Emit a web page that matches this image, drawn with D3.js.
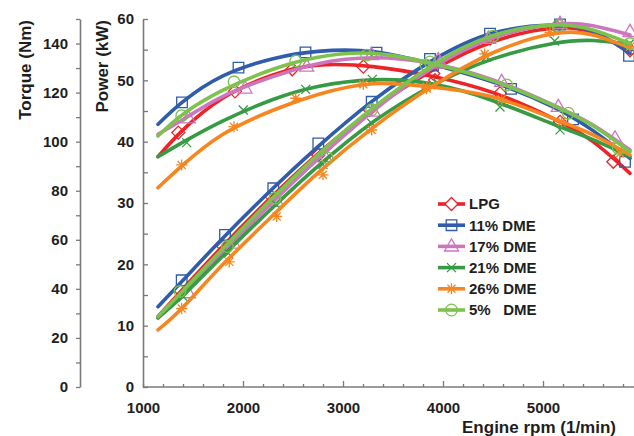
<!DOCTYPE html>
<html>
<head>
<meta charset="utf-8">
<script src="https://cdn.jsdelivr.net/npm/d3@7"></script>
<style>
  html, body { margin: 0; padding: 0; background: #fff; }
  svg { display: block; font-family: "Liberation Sans", Arial, sans-serif; }
</style>
</head>
<body>
<svg id="chart" width="634" height="436"></svg>
<script>
// Engine speed points of the fitted curves (1/min)
const fitRpm = [1150, 1400, 1800, 2300, 2750, 3300, 3900, 4500, 5100, 5500, 5870];

// Fitted torque curves (Nm)
const torqueFitLPG   = [93.9, 104.8, 117.8, 127.2, 131.2, 130.6, 126.6, 120.0, 109.5, 100.0, 87.1];
const torqueFitDME11 = [107.1, 116.3, 126.8, 133.8, 136.8, 136.7, 131.5, 124.3, 114.2, 104.5, 93.2];
const torqueFitDME17 = [103.0, 109.0, 118.5, 126.5, 131.8, 134.2, 131.8, 125.2, 115.0, 106.8, 96.6];
const torqueFitDME21 = [93.9, 99.8, 108.5, 117.2, 122.5, 125.2, 123.5, 116.7, 107.2, 100.8, 93.9];
const torqueFitDME26 = [81.2, 90.5, 103.0, 112.8, 119.2, 123.6, 122.2, 118.2, 109.5, 102.8, 94.6];
const torqueFitDME5  = [102.3, 111.2, 121.0, 129.5, 134.4, 136.0, 131.8, 124.8, 114.8, 106.5, 95.9];

// Fitted power curves (kW)
const powerFitLPG   = [11.5, 16.0, 23.0, 31.2, 38.0, 45.3, 51.7, 56.3, 58.5, 57.7, 54.8];
const powerFitDME11 = [13.1, 17.4, 24.3, 32.4, 39.2, 46.7, 53.3, 57.7, 59.0, 58.0, 54.4];
const powerFitDME17 = [11.2, 15.3, 22.0, 30.2, 37.2, 45.0, 52.1, 56.9, 59.1, 58.9, 57.4];
const powerFitDME21 = [11.3, 14.9, 21.4, 29.3, 36.0, 43.2, 49.2, 53.5, 56.0, 56.5, 55.9];
const powerFitDME26 = [9.3, 13.0, 20.0, 28.0, 34.9, 42.3, 49.1, 54.5, 57.6, 57.4, 55.3];
const powerFitDME5  = [11.5, 15.7, 22.6, 30.9, 37.9, 45.5, 52.5, 57.3, 59.0, 58.2, 56.0];

// Measured points [rpm, torque Nm]
const torquePtsLPG   = [[1353,103.7],[1920,120.5],[2493,129.5],[3203,130.6],[3920,125.1],[4570,119.7],[5170,108.1],[5703,91.8]];
const torquePtsDME11 = [[1390,116.0],[1955,130.2],[2625,136.4],[3335,136.3],[3900,131.0],[4680,121.5],[5300,109.1],[5820,91.8]];
const torquePtsDME17 = [[1453,109.5],[2020,121.7],[2637,130.6],[3287,135.3],[3970,131.9],[4587,124.4],[5153,114.2],[5720,101.4]];
const torquePtsDME21 = [[1437,99.6],[2003,112.9],[2627,121.3],[3293,125.4],[3953,123.2],[4570,114.1],[5170,104.8],[5750,95.9]];
const torquePtsDME26 = [[1387,90.5],[1910,106.1],[2527,117.7],[3203,123.4],[3837,121.6],[4587,117.3],[5187,108.1],[5770,95.3]];
const torquePtsDME5  = [[1387,110.6],[1910,124.4],[2527,132.9],[3237,135.3],[3870,132.5],[4637,123.1],[5253,111.6],[5753,97.3]];

// Measured points [rpm, power kW]
const powerPtsLPG   = [[1370,15.8],[1803,22.9],[2287,31.0],[2753,37.8],[3267,45.2],[3903,51.1],[4470,56.8],[5137,58.7],[5870,54.9]];
const powerPtsDME11 = [[1387,17.4],[1820,24.8],[2303,32.4],[2753,39.7],[3287,46.5],[3870,53.5],[4470,57.6],[5170,59.1],[5860,54.0]];
const powerPtsDME17 = [[1453,15.3],[1903,23.4],[2337,30.2],[2820,37.5],[3303,44.9],[3953,53.3],[4453,56.8],[5170,59.2],[5870,57.9]];
const powerPtsDME21 = [[1403,14.7],[1853,21.8],[2337,29.7],[2800,36.3],[3287,43.0],[3953,49.5],[4433,53.8],[5117,56.4],[5870,56.0]];
const powerPtsDME26 = [[1387,12.8],[1863,20.4],[2337,27.8],[2800,34.6],[3287,41.9],[3837,48.9],[4417,54.3],[5070,57.8],[5870,55.5]];
const powerPtsDME5  = [[1370,15.6],[1843,22.9],[2320,30.8],[2840,37.4],[3287,45.2],[3830,52.5],[4500,57.2],[5150,58.9],[5870,56.0]];

const seriesNames = ["LPG", "11% DME", "17% DME", "21% DME", "26% DME", "5%\u00a0\u00a0\u00a0DME"];
const seriesColors = ["#ec2327", "#2f5cab", "#cc76bd", "#379a45", "#f6861f", "#7dc24d"];
const seriesMarkers = ["diamond", "square", "triangle", "cross", "star", "circle"];

const torqueFits = [torqueFitLPG, torqueFitDME11, torqueFitDME17, torqueFitDME21, torqueFitDME26, torqueFitDME5];
const powerFits = [powerFitLPG, powerFitDME11, powerFitDME17, powerFitDME21, powerFitDME26, powerFitDME5];
const torquePts = [torquePtsLPG, torquePtsDME11, torquePtsDME17, torquePtsDME21, torquePtsDME26, torquePtsDME5];
const powerPts = [powerPtsLPG, powerPtsDME11, powerPtsDME17, powerPtsDME21, powerPtsDME26, powerPtsDME5];

const powerTicks = d3.range(0, 61, 5);
const torqueTicks = d3.range(0, 151, 10);
const rpmTicks = d3.range(1000, 5801, 200);
const rpmLabels = [1000, 2000, 3000, 4000, 5000];

const svg = d3.select("#chart");
const W = 634;

const x = d3.scaleLinear().domain([1000, 6000]).range([143, 643]);
const yP = d3.scaleLinear().domain([0, 60]).range([387, 19]);
const yT = d3.scaleLinear().domain([0, 150]).range([387, 19]);

const axisColor = "#7a7a7a";
const textColor = "#1e1e1e";

function styleAxis(g) {
  g.select(".domain").attr("stroke", axisColor).attr("stroke-width", 1.6);
  g.selectAll(".tick line").attr("stroke", axisColor).attr("stroke-width", 1.3);
  g.selectAll(".tick text")
    .attr("fill", textColor)
    .style("font-size", "15px")
    .style("font-weight", "bold")
    .style("font-family", "'Liberation Sans', Arial, sans-serif");
}

// Torque axis (outer)
svg.append("g")
  .attr("transform", "translate(80,0)")
  .call(d3.axisLeft(yT).tickValues(torqueTicks).tickSizeInner(4).tickSizeOuter(0).tickPadding(8)
    .tickFormat(d => (d % 20 === 0 && d <= 140) ? d : ""))
  .call(styleAxis);

// Power axis (inner)
svg.append("g")
  .attr("transform", "translate(143,0)")
  .call(d3.axisLeft(yP).tickValues(powerTicks).tickSizeInner(-5).tickSizeOuter(0).tickPadding(9)
    .tickFormat(d => d % 10 === 0 ? d : ""))
  .call(styleAxis);

// Engine speed axis
const gx = svg.append("g")
  .attr("transform", "translate(0,387)")
  .call(d3.axisBottom(x).tickValues(rpmTicks).tickSizeInner(-3).tickSizeOuter(0).tickPadding(15)
    .tickFormat(d => rpmLabels.includes(d) ? d : ""))
  .call(styleAxis);
gx.selectAll(".tick line").filter(d => d % 1000 === 0 && d > 1000).attr("y2", -6);
gx.select(".domain").attr("d", `M${x(1000)},0H${W}`);

// Axis titles
const titleStyle = t => t.attr("fill", textColor).style("font-size", "17px").style("font-weight", "bold");
svg.append("text").attr("transform", "translate(31,20) rotate(-90)").attr("text-anchor", "end")
  .text("Torque (Nm)").call(titleStyle);
svg.append("text").attr("transform", "translate(108,20) rotate(-90)").attr("text-anchor", "end")
  .text("Power (kW)").call(titleStyle);
svg.append("text").attr("x", 616).attr("y", 433).attr("text-anchor", "end")
  .text("Engine rpm (1/min)").call(titleStyle);

// Marker shapes
function markerPath(kind) {
  switch (kind) {
    case "diamond": return "M0,-6.5L6.5,0L0,6.5L-6.5,0Z";
    case "square": return "M-5.3,-5.3H5.3V5.3H-5.3Z";
    case "triangle": return "M0,-7.5L7,4.6H-7Z";
    case "cross": return "M-4.5,-4.5L4.5,4.5M-4.5,4.5L4.5,-4.5";
    case "star": return "M0,-5.5V5.5M-4,-4L4,4M-4,4L4,-4M-5.5,0H5.5";
    case "circle": return d3.symbol(d3.symbolCircle, 105)();
  }
}

const plot = svg.append("g");
const line = d3.line().curve(d3.curveNatural);

function drawSeries(i) {
  const color = seriesColors[i];
  const g = plot.append("g");
  [torqueFits[i].map((v, k) => [x(fitRpm[k]), yT(v)]),
   powerFits[i].map((v, k) => [x(fitRpm[k]), yP(v)])].forEach(pts => {
    g.append("path").attr("d", line(pts)).attr("fill", "none")
      .attr("stroke", color).attr("stroke-width", 3.6).attr("stroke-linecap", "round");
  });
  const marks = torquePts[i].map(d => [x(d[0]), yT(d[1])])
    .concat(powerPts[i].map(d => [x(d[0]), yP(d[1])]));
  g.selectAll("path.mk").data(marks).join("path").attr("class", "mk")
    .attr("transform", d => `translate(${d[0]},${d[1]})`)
    .attr("d", markerPath(seriesMarkers[i]))
    .attr("fill", "none").attr("stroke", color).attr("stroke-width", 1.3);
}
[0, 1, 2, 3, 4, 5].forEach(drawSeries);

// Legend
const legend = svg.append("g");
seriesNames.forEach((name, i) => {
  const cy = 204 + i * 21.2;
  legend.append("line").attr("x1", 438).attr("x2", 465).attr("y1", cy).attr("y2", cy)
    .attr("stroke", seriesColors[i]).attr("stroke-width", 3.6);
  legend.append("path").attr("transform", `translate(451.5,${cy})`)
    .attr("d", markerPath(seriesMarkers[i]))
    .attr("fill", seriesMarkers[i] === "diamond" ? "#fff" : "none")
    .attr("stroke", seriesColors[i]).attr("stroke-width", 1.3);
  legend.append("text").attr("x", 469).attr("y", cy + 5.3)
    .attr("fill", textColor).style("font-size", "15px").style("font-weight", "bold")
    .text(name);
});
</script>
</body>
</html>
